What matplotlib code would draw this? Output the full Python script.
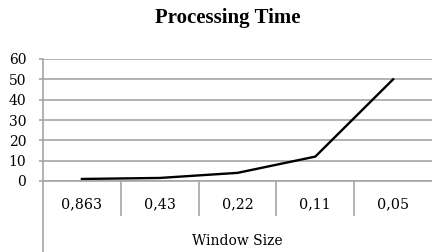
import numpy as np
import matplotlib
matplotlib.use('Agg')
import matplotlib.pyplot as plt

# data
window_sizes = ['0,863', '0,43', '0,22', '0,11', '0,05']
proc_time = [1, 1.5, 4, 12, 50]
y_ticks = [0, 10, 20, 30, 40, 50, 60]

plt.rcParams['font.family'] = ['DejaVu Serif']
grey = '#a6a6a6'

fig = plt.figure(figsize=(4.32, 2.52), dpi=100)
ax = fig.add_axes([43/432, 1-181/252, 389/432, 122/252])

x = np.arange(len(window_sizes))
ax.plot(x, proc_time, color='black', lw=1.7)

ax.set_xlim(-0.5, len(window_sizes)-0.5)
ax.set_ylim(0, 60)
ax.set_yticks(y_ticks)
ax.yaxis.grid(True, color=grey, lw=1.2)
ax.set_axisbelow(True)
ax.tick_params(axis='y', length=3, color=grey, width=1.2, labelsize=10, pad=9)

ax.set_xticks(x)
ax.set_xticklabels(window_sizes)
ax.set_xticks(np.arange(0.5, len(window_sizes)-0.5), minor=True)
ax.tick_params(axis='x', which='major', length=0, labelsize=10.3, pad=12)
ax.tick_params(axis='x', which='minor', length=25, color=grey, width=1.2)

for s in ['top', 'right']:
    ax.spines[s].set_visible(False)
ax.spines['bottom'].set_color(grey)
ax.spines['bottom'].set_linewidth(1.2)
ax.spines['left'].set_visible(False)
# y axis line runs down through the category area
ax.plot([0, 0], [1, -0.6], transform=ax.transAxes, color=grey, lw=1.2, clip_on=False)

ax.set_xlabel('Window Size', fontsize=10, labelpad=10)
fig.text(0.527, 0.93, 'Processing Time', ha='center', va='center',
         fontsize=15, fontweight='bold', family='Liberation Serif')

fig.savefig('out.png', dpi=100)
